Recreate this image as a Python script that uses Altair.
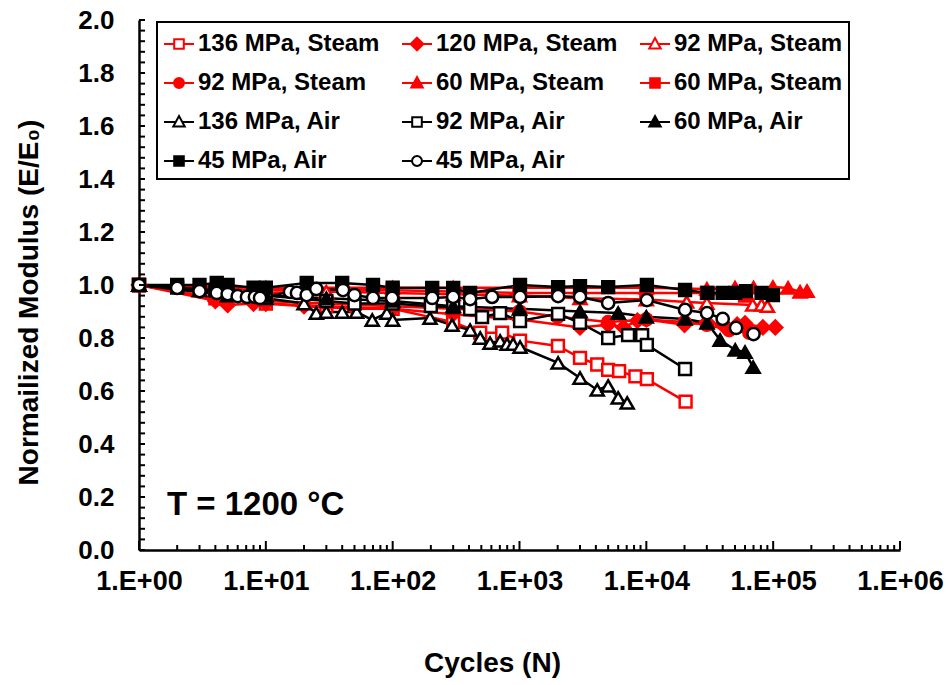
import altair as alt
import pandas as pd

# ---------------- data ----------------
s136_steam_N = [1, 4, 10, 30, 100, 300, 490, 730, 1010, 2010, 3000, 4100, 5000, 6100, 8200, 10100, 20400]
s136_steam_E = [1.0, 0.95, 0.93, 0.92, 0.91, 0.86, 0.82, 0.82, 0.79, 0.77, 0.725, 0.70, 0.68, 0.675, 0.655, 0.645, 0.56]

s120_steam_N = [1, 4, 5, 8, 10, 20, 50, 100, 300, 1000, 3000, 5000, 6600, 8500, 10000, 20000, 30000, 40000, 52000, 60000, 83000, 104000]
s120_steam_E = [1.0, 0.94, 0.925, 0.93, 0.93, 0.92, 0.91, 0.91, 0.89, 0.87, 0.84, 0.85, 0.84, 0.865, 0.87, 0.85, 0.86, 0.85, 0.85, 0.855, 0.84, 0.84]

s92_steam_tri_N = [1, 3, 10, 30, 100, 300, 1000, 3000, 10000, 20800, 30000, 69000, 81000, 90000]
s92_steam_tri_E = [1.0, 0.98, 0.97, 0.975, 0.97, 0.965, 0.96, 0.95, 0.945, 0.936, 0.932, 0.925, 0.925, 0.92]

s92_steam_circ_N = [1, 4, 10, 30, 100, 300, 1000, 2000, 5000, 10000, 20000, 30000, 45000, 65000]
s92_steam_circ_E = [1.0, 0.95, 0.94, 0.93, 0.92, 0.91, 0.90, 0.88, 0.86, 0.87, 0.86, 0.85, 0.83, 0.82]

s60_steam_tri_N = [1, 10, 100, 300, 1000, 3000, 10000, 30000, 50000, 70000, 99600, 131000, 163000, 185000]
s60_steam_tri_E = [1.0, 0.99, 0.99, 0.99, 0.99, 0.99, 0.99, 0.985, 0.99, 0.99, 0.992, 0.989, 0.974, 0.977]

s60_steam_sq_N = [1, 10, 100, 1000, 10000, 30000, 60000]
s60_steam_sq_E = [1.0, 0.98, 0.98, 0.97, 0.97, 0.97, 0.96]

s136_air_N = [1, 5, 10, 20, 25, 30, 40, 52, 69, 90, 100, 197, 294, 408, 490, 586, 703, 798, 891, 1010, 2015, 3000, 4100, 5000, 6000, 7060]
s136_air_E = [1.0, 0.96, 0.95, 0.93, 0.894, 0.898, 0.898, 0.898, 0.868, 0.894, 0.868, 0.875, 0.849, 0.83, 0.80, 0.781, 0.789, 0.777, 0.777, 0.766, 0.706, 0.649, 0.604, 0.619, 0.574, 0.555]

s92_air_N = [1, 2, 4, 10, 30, 50, 100, 200, 300, 408, 507, 703, 1010, 2015, 3000, 5000, 7180, 9270, 10100, 20200]
s92_air_E = [1.0, 0.99, 0.98, 0.96, 0.94, 0.93, 0.93, 0.92, 0.917, 0.909, 0.879, 0.894, 0.864, 0.891, 0.857, 0.80, 0.811, 0.811, 0.774, 0.683]

s60_air_N = [1, 3, 10, 30, 100, 300, 1000, 3000, 6000, 10000, 20200, 30100, 38200, 50200, 60000, 69500]
s60_air_E = [1.0, 0.98, 0.96, 0.95, 0.94, 0.92, 0.91, 0.90, 0.894, 0.88, 0.872, 0.857, 0.792, 0.755, 0.747, 0.69]

s45_air_sq_N = [1, 2, 3, 4.1, 5, 8, 10, 21, 40, 70, 100, 205, 300, 408, 1010, 2015, 3000, 5000, 10100, 20200, 30400, 40000, 50200, 61000, 81000, 99600]
s45_air_sq_E = [1.0, 1.0, 1.0, 1.008, 1.0, 0.99, 0.99, 1.008, 1.008, 1.0, 0.99, 0.989, 0.989, 0.97, 1.0, 0.992, 0.996, 0.992, 1.0, 0.981, 0.97, 0.97, 0.97, 0.977, 0.97, 0.962]

s45_air_circ_N = [1, 2, 3, 4.1, 5, 6, 7.1, 8.2, 9, 15.5, 17.6, 21, 25, 40.6, 50, 70, 99, 205, 300, 408, 608, 1010, 2015, 3000, 5000, 10100, 20200, 30100, 40000, 51000, 70000]
s45_air_circ_E = [1.0, 0.989, 0.977, 0.97, 0.966, 0.958, 0.955, 0.955, 0.951, 0.974, 0.97, 0.962, 0.985, 0.981, 0.962, 0.951, 0.951, 0.951, 0.955, 0.947, 0.955, 0.955, 0.958, 0.955, 0.932, 0.943, 0.906, 0.894, 0.872, 0.838, 0.815]

# legend labels in reading order (duplicate names made unique by trailing spaces)
labels = ["136 MPa, Steam", "120 MPa, Steam", "92 MPa, Steam",
          "92 MPa, Steam ", "60 MPa, Steam", "60 MPa, Steam ",
          "136 MPa, Air", "92 MPa, Air", "60 MPa, Air",
          "45 MPa, Air", "45 MPa, Air "]
# the legend fills column by column: reorder so it reads row by row
legend_order = [labels[i] for i in [0, 3, 6, 9, 1, 4, 7, 10, 2, 5, 8]]

x_major_ticks = [1, 10, 100, 1000, 10000, 100000, 1000000]
x_minor_ticks = [m * d for d in [1, 10, 100, 1000, 10000, 100000] for m in range(2, 10)]
y_major_ticks = [0.0, 0.2, 0.4, 0.6, 0.8, 1.0, 1.2, 1.4, 1.6, 1.8, 2.0]
y_minor_ticks = [round(i * 0.04, 2) for i in range(51)]

# ---------------- styles ----------------
RED = "#ff0000"
BLK = "#000000"
styles = {
    "136 MPa, Steam": (RED, "white", "square", 140, "osq"),
    "120 MPa, Steam": (RED, RED, "diamond", 190, "dia"),
    "92 MPa, Steam": (RED, "white", "triangle-up", 170, "otri"),
    "92 MPa, Steam ": (RED, RED, "circle", 150, "circ"),
    "60 MPa, Steam": (RED, RED, "triangle-up", 170, "tri"),
    "60 MPa, Steam ": (RED, RED, "square", 140, "sq"),
    "136 MPa, Air": (BLK, "white", "triangle-up", 170, "otri"),
    "92 MPa, Air": (BLK, "white", "square", 140, "osq"),
    "60 MPa, Air": (BLK, BLK, "triangle-up", 170, "tri"),
    "45 MPa, Air": (BLK, BLK, "square", 140, "sq"),
    "45 MPa, Air ": (BLK, "white", "circle", 150, "circ"),
}
series_data = {
    "136 MPa, Steam": (s136_steam_N, s136_steam_E),
    "120 MPa, Steam": (s120_steam_N, s120_steam_E),
    "92 MPa, Steam": (s92_steam_tri_N, s92_steam_tri_E),
    "92 MPa, Steam ": (s92_steam_circ_N, s92_steam_circ_E),
    "60 MPa, Steam": (s60_steam_tri_N, s60_steam_tri_E),
    "60 MPa, Steam ": (s60_steam_sq_N, s60_steam_sq_E),
    "136 MPa, Air": (s136_air_N, s136_air_E),
    "92 MPa, Air": (s92_air_N, s92_air_E),
    "60 MPa, Air": (s60_air_N, s60_air_E),
    "45 MPa, Air": (s45_air_sq_N, s45_air_sq_E),
    "45 MPa, Air ": (s45_air_circ_N, s45_air_circ_E),
}

# legend symbol paths: short line stub + marker
S = 0.32
leg_paths = {
    "sq": f"M-1,0H-{S}M{S},0H1M-{S},-{S}H{S}V{S}H-{S}Z",
    "osq": f"M-1,0H-{S}M{S},0H1M-{S},-{S}H{S}V{S}H-{S}Z",
    "dia": "M-1,0H-0.42M0.42,0H1M0,-0.42L0.42,0L0,0.42L-0.42,0Z",
    "tri": "M-1,0H-0.2M0.2,0H1M0,-0.4L0.38,0.3H-0.38Z",
    "otri": "M-1,0H-0.2M0.2,0H1M0,-0.4L0.38,0.3H-0.38Z",
    "circ": "M-1,0H-0.33M0.33,0H1M-0.33,0A0.33,0.33 0 1,0 0.33,0A0.33,0.33 0 1,0 -0.33,0Z",
}

rows = []
for key in labels:
    Ns, Es = series_data[key]
    st = styles[key]
    for n, e in zip(Ns, Es):
        rows.append({"series": key, "N": n, "E": e, "strokec": st[0],
                     "fillc": st[1], "shp": st[2], "sz": st[3]})
df = pd.DataFrame(rows)

FONT = "Liberation Sans"
W, H = 761, 530

xscale = alt.Scale(type="log", domain=[1, 1000000], nice=False)
yscale = alt.Scale(domain=[0, 2], nice=False)

x_enc = alt.X("N:Q", scale=xscale, axis=alt.Axis(
    values=x_major_ticks, labelExpr="'1.E+0' + format(log(datum.value)/LN10, '.0f')",
    ticks=False, grid=False, title="Cycles (N)", labelPadding=18, labelFlush=False,
    labelFontSize=27, titlePadding=55, titleX=353, titleFontSize=28,
    domainWidth=2.5, domainColor="black"))
y_enc = alt.Y("E:Q", scale=yscale, axis=alt.Axis(
    values=y_major_ticks, format=".1f", ticks=False, grid=False,
    title="Normailized Modulus (E/E\u2080)", labelPadding=25, titlePadding=34,
    labelFontSize=26, titleFontSize=28, titleY=282, domainWidth=2.5, domainColor="black"))

lines = alt.Chart(df).mark_line(strokeWidth=2.5).encode(
    x=x_enc, y=y_enc,
    color=alt.Color("strokec:N", scale=None),
    detail="series:N", order="N:Q")

points = alt.Chart(df).mark_point(strokeWidth=2.5, opacity=1).encode(
    x="N:Q", y="E:Q",
    shape=alt.Shape("shp:N", scale=None),
    fill=alt.Fill("fillc:N", scale=None),
    stroke=alt.Stroke("strokec:N", scale=None),
    size=alt.Size("sz:Q", scale=None))

leg = alt.Legend(title=None, orient="none", legendX=18, legendY=2, columns=3,
                 columnPadding=18, rowPadding=11, symbolSize=900, symbolStrokeWidth=2,
                 labelFont=FONT, labelFontSize=24, labelFontWeight="bold",
                 labelColor="black", labelLimit=500, labelOffset=3,
                 strokeColor="black", padding=6, symbolOpacity=1)
legend_layer = alt.Chart(df).transform_filter("datum.N < 0").mark_point(strokeWidth=2).encode(
    x="N:Q", y="E:Q",
    shape=alt.Shape("series:N", scale=alt.Scale(domain=legend_order, range=[leg_paths[styles[k][4]] for k in legend_order]), legend=leg),
    stroke=alt.Stroke("series:N", scale=alt.Scale(domain=legend_order, range=[styles[k][0] for k in legend_order]), legend=leg),
    fill=alt.Fill("series:N", scale=alt.Scale(domain=legend_order, range=[styles[k][1] for k in legend_order]), legend=leg),
)

xt_major = alt.Chart(pd.DataFrame({"N": x_major_ticks})).mark_rule(color="black", strokeWidth=2).encode(
    x="N:Q", y=alt.value(H), y2=alt.value(H - 9))
xt_minor = alt.Chart(pd.DataFrame({"N": x_minor_ticks})).mark_rule(color="black", strokeWidth=2).encode(
    x="N:Q", y=alt.value(H), y2=alt.value(H - 5))
yt = alt.Chart(pd.DataFrame({"E": y_minor_ticks})).mark_rule(color="black", strokeWidth=2).encode(
    y="E:Q", x=alt.value(0), x2=alt.value(6))

note = alt.Chart(pd.DataFrame({"t": ["T = 1200 \u00b0C"]})).mark_text(
    align="left", baseline="middle", font=FONT, fontSize=33, fontWeight="bold", color="black"
).encode(text="t:N", x=alt.value(28), y=alt.value(485))

chart = alt.layer(lines, points, xt_major, xt_minor, yt, legend_layer, note).properties(
    width=W, height=H,
    autosize=alt.AutoSizeParams(type="none"),
    padding={"left": 139, "top": 20, "right": 50, "bottom": 135},
    background="white",
).configure_view(stroke=None).configure_axis(
    labelFont=FONT, labelFontWeight="bold", labelColor="black",
    titleFont=FONT, titleFontWeight="bold", titleColor="black",
).configure_legend(strokeWidth=2)

chart.save("out.html", embed_options={"renderer": "svg", "actions": False})
